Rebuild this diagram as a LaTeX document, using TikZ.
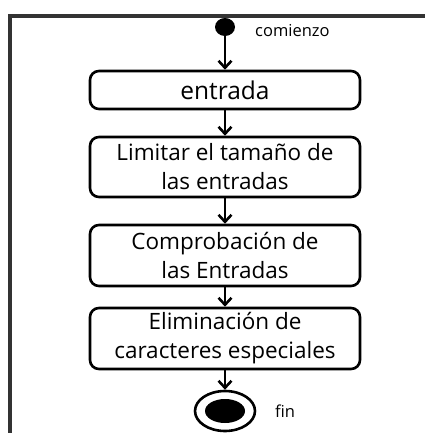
\documentclass[tikz,border=0pt]{standalone}
\usepackage{fontspec}
\setmainfont{Open Sans}
\usetikzlibrary{arrows.meta,shapes.geometric}

\begin{document}
\begin{tikzpicture}[x=1pt, y=-1pt,
		box/.style={draw, line width=2.6pt, rounded corners=9pt, minimum width=270pt, inner sep=0pt, align=center, font=\fontsize{22.5}{29}\selectfont},
		flow/.style={line width=2.6pt, -{Straight Barb[length=7pt,width=13pt,line width=2.6pt]}},
		startdot/.style={ellipse, fill, minimum width=20pt, minimum height=18pt, inner sep=0pt},
		endring/.style={ellipse, draw, line width=2.6pt, minimum width=60pt, minimum height=40pt, inner sep=0pt},
		enddot/.style={ellipse, fill, minimum width=40pt, minimum height=24pt, inner sep=0pt},
		tag/.style={anchor=base west, inner sep=0pt, font=\fontsize{16.5}{18}\selectfont}]
			%%%%% START %%%%%
			
			\useasboundingbox (0, 0) rectangle (425, 433);
			\draw[line width=3.5pt, color=black!80] (10, 433) -- (10, 16) -- (425, 16);
			
			\node[startdot] (start) at (225, 27) {};
			\node[tag] (comienzo) at (255, 37) {comienzo};
			
			\node[box, minimum height=38pt, font=\fontsize{24.5}{29}\selectfont] (entrada) at (225, 90) {entrada};
			\node[box, minimum height=60pt] (limitar) at (225, 167) {Limitar el tamaño de\\las entradas};
			\node[box, minimum height=61pt] (comprobacion) at (225, 255.5) {Comprobación de\\las Entradas};
			\node[box, minimum height=61pt] (eliminacion) at (225, 338.5) {Eliminación de\\caracteres especiales};
			
			\node[endring] (fin) at (225, 411) {};
			\node[enddot] (findot) at (fin) {};
			\node[tag] (finlabel) at (275, 417) {fin};
			
			\draw[flow] (start) -- (entrada);
			\draw[flow] (entrada) -- (limitar);
			\draw[flow] (limitar) -- (comprobacion);
			\draw[flow] (comprobacion) -- (eliminacion);
			\draw[flow] (eliminacion) -- (fin);
			
			%%%%% END %%%%%
		\end{tikzpicture}
\end{document}
